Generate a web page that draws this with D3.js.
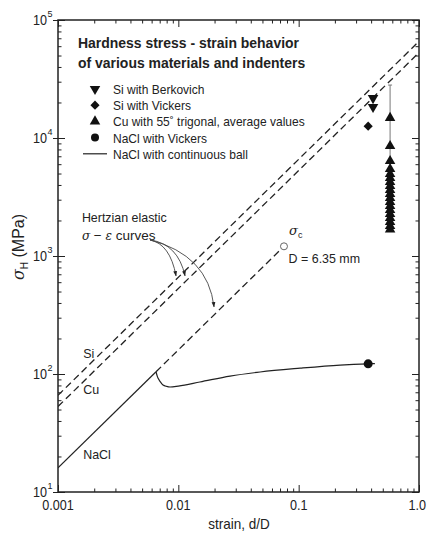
<!DOCTYPE html>
<html>
<head>
<meta charset="utf-8">
<script src="https://cdn.jsdelivr.net/npm/d3@7"></script>
<style>
  html, body { margin:0; padding:0; background:#fff; }
  svg text { font-family: "Liberation Sans Narrow", "Arial Narrow", "Liberation Sans", Arial, sans-serif; fill:#222; }
</style>
</head>
<body>
<svg id="chart" width="427" height="533"></svg>
<script>
// strain (d/D) vs hardness stress (MPa)
const xTickLabels = ['0.001', '0.01', '0.1', '1.0'];
const yTickExponents = [1, 2, 3, 4, 5];

const siBerkovich = [[0.415, 21800], [0.415, 18300]];
const siVickers = [[0.378, 12600]];
const cuStrain = 0.575;
const cuRange = [1600, 28100];
const cuStress = [14800, 8550, 6380, 5460, 4955, 4581, 4238, 3919, 3624, 3352, 3100, 2867, 2651, 2452, 2268, 2098, 1940, 1795, 1680];
const naclVickers = [[0.378, 122]];

// continuous ball curve for NaCl (after yield)
const ballStrain = [0.00653, 0.0067, 0.00692, 0.0072, 0.00746, 0.008, 0.00853, 0.01, 0.0151, 0.0269, 0.0478, 0.103, 0.221, 0.378, 0.43];
const ballStress = [104, 95, 89, 84, 80.7, 78.5, 77.6, 79, 85.5, 96, 104, 112, 119, 122, 122.5];

// Hertzian elastic lines, sigma = E * strain
const elastic = [
  {name:'Si', E:66000, from:0.001, to:1},
  {name:'Cu', E:53000, from:0.001, to:1}
];
const naclE = 16000, naclYield = 0.00653, naclCrit = 0.0755;

const legendItems = [
  {sym:'down', label:'Si with Berkovich'},
  {sym:'diamond', label:'Si with Vickers'},
  {sym:'up', label:'Cu with 55\u02da trigonal, average values'},
  {sym:'circle', label:'NaCl with Vickers'},
  {sym:'line', label:'NaCl with continuous ball'}
];

const svg = d3.select('#chart');
const x = d3.scaleLog().domain([0.001, 1]).range([58, 419]);
const y = d3.scaleLog().domain([10, 1e5]).range([492, 20]);
const ink = '#222';

// the reference uses a condensed face; squeeze the wide fallback a little
function squeeze(sel, k){
  sel.each(function(){
    const w = this.getComputedTextLength();
    d3.select(this).attr('textLength', w*k).attr('lengthAdjust','spacingAndGlyphs');
  });
}

svg.append('defs').append('clipPath').attr('id','plot')
  .append('rect').attr('x',58).attr('y',20).attr('width',361).attr('height',472);
svg.select('defs').append('marker').attr('id','arrow').attr('viewBox','0 0 10 10')
  .attr('refX',9).attr('refY',5).attr('markerWidth',6).attr('markerHeight',7).attr('orient','auto')
  .append('path').attr('d','M0,1.5L10,5L0,8.5Z').attr('fill',ink);

// ticks (inside, on all four sides)
const isMajor = v => Math.abs(Math.log10(v) - Math.round(Math.log10(v))) < 1e-6;
const xt = x.ticks(), yt = y.ticks();
const xMajor = xt.filter(isMajor), xMinor = xt.filter(v => !isMajor(v));
const yMajor = yt.filter(isMajor), yMinor = yt.filter(v => !isMajor(v));

function axisSet(maker, scale, pos, vals, size){
  const g = svg.append('g').attr('transform', pos)
    .call(maker(scale).tickValues(vals).tickSize(size).tickFormat(''));
  g.select('.domain').remove();
  g.selectAll('line').attr('stroke', ink).attr('stroke-width', 1);
}
axisSet(d3.axisBottom, x, 'translate(0,492)', xMinor, -3.5);
axisSet(d3.axisBottom, x, 'translate(0,492)', xMajor, -7);
axisSet(d3.axisTop, x, 'translate(0,20)', xMinor, -3.5);
axisSet(d3.axisTop, x, 'translate(0,20)', xMajor, -7);
axisSet(d3.axisLeft, y, 'translate(58,0)', yMinor, -3.5);
axisSet(d3.axisLeft, y, 'translate(58,0)', yMajor, 5);
axisSet(d3.axisLeft, y, 'translate(58,0)', yMajor, -7);
axisSet(d3.axisRight, y, 'translate(419,0)', yMinor, -3.5);
axisSet(d3.axisRight, y, 'translate(419,0)', yMajor, -7);

svg.append('rect').attr('x',58).attr('y',20).attr('width',361).attr('height',472)
  .attr('fill','none').attr('stroke',ink).attr('stroke-width',1.5);

// tick labels (last one kept inside the window edge)
svg.append('g').selectAll('text').data(xMajor).enter().append('text')
  .attr('x', (d,i) => i === xMajor.length-1 ? 426 : x(d))
  .attr('y', 510)
  .attr('text-anchor', (d,i) => i === xMajor.length-1 ? 'end' : 'middle')
  .attr('font-size',14)
  .text((d,i) => xTickLabels[i]).call(squeeze, 0.9);
svg.append('g').selectAll('text').data(yTickExponents).enter().append('text')
  .attr('x', 47).attr('y', d => y(Math.pow(10,d)) + 5).attr('text-anchor','end').attr('font-size',14)
  .text('10').call(squeeze, 0.9);
svg.append('g').selectAll('text').data(yTickExponents).enter().append('text')
  .attr('x', 47.5).attr('y', d => y(Math.pow(10,d)) - 3).attr('font-size',9).text(d => d);

// axis titles
svg.append('text').attr('x',239).attr('y',529).attr('text-anchor','middle').attr('font-size',15)
  .text('strain,  d/D').call(squeeze, 0.9);
const yt2 = svg.append('text').attr('transform','translate(24,247) rotate(-90)').attr('text-anchor','middle').attr('font-size',16);
yt2.append('tspan').attr('font-family','DejaVu Serif, serif').attr('font-style','italic').text('\u03c3');
yt2.append('tspan').attr('font-size',10).attr('dy',4).text('H');
yt2.append('tspan').attr('dy',-4).text('  (MPa)');

const plot = svg.append('g').attr('clip-path','url(#plot)');
const line = d3.line().x(d => x(d[0])).y(d => y(d[1]));

// elastic dashed lines
plot.selectAll('path.el').data(elastic).enter().append('path').attr('class','el')
  .attr('d', d => line([[d.from, d.E*d.from],[d.to, d.E*d.to]]))
  .attr('fill','none').attr('stroke',ink).attr('stroke-width',1.3).attr('stroke-dasharray','7,4');
plot.append('path').attr('d', line([[naclYield, naclE*naclYield],[naclCrit, naclE*naclCrit]]))
  .attr('fill','none').attr('stroke',ink).attr('stroke-width',1.3).attr('stroke-dasharray','7,4');
plot.append('path').attr('d', line([[0.001, naclE*0.001],[naclYield, naclE*naclYield]]))
  .attr('fill','none').attr('stroke',ink).attr('stroke-width',1.2);
plot.append('circle').attr('cx', x(naclCrit)).attr('cy', y(naclE*naclCrit)).attr('r',3.5)
  .attr('fill','#fff').attr('stroke','#666').attr('stroke-width',1);

// continuous ball curve
plot.append('path').datum(ballStrain.map((s,i) => [s, ballStress[i]]))
  .attr('d', d3.line().x(d => x(d[0])).y(d => y(d[1])).curve(d3.curveMonotoneX))
  .attr('fill','none').attr('stroke',ink).attr('stroke-width',1.2);

// Cu range bar and triangles
plot.append('line').attr('x1',x(cuStrain)).attr('x2',x(cuStrain)).attr('y1',y(cuRange[1])).attr('y2',y(cuRange[0]))
  .attr('stroke','#777').attr('stroke-width',1);
plot.append('line').attr('x1',x(cuStrain)-2).attr('x2',x(cuStrain)+2).attr('y1',y(cuRange[1])).attr('y2',y(cuRange[1]))
  .attr('stroke','#777').attr('stroke-width',1);
const tri = d3.symbol().type(d3.symbolTriangle).size(48);
plot.selectAll('path.cu').data(cuStress).enter().append('path').attr('class','cu')
  .attr('transform', d => `translate(${x(cuStrain)},${y(d)})`).attr('d', tri).attr('fill','#111');
plot.selectAll('path.berk').data(siBerkovich).enter().append('path').attr('class','berk')
  .attr('transform', d => `translate(${x(d[0])},${y(d[1])}) rotate(180)`).attr('d', tri).attr('fill','#111');
const dia = d3.symbol().type(d3.symbolSquare).size(42);
plot.selectAll('path.vick').data(siVickers).enter().append('path').attr('class','vick')
  .attr('transform', d => `translate(${x(d[0])},${y(d[1])}) rotate(45)`).attr('d', dia).attr('fill','#111');
plot.selectAll('circle.nv').data(naclVickers).enter().append('circle').attr('class','nv')
  .attr('cx', d => x(d[0])).attr('cy', d => y(d[1])).attr('r',4.5).attr('fill','#111');

// Hertzian annotation arrows
const arrowFrom = [0.00582, 1368];
const arrowTo = [[0.00957, 678, 0.00853, 1265], [0.01137, 678, 0.00994, 1265], [0.0198, 370, 0.01766, 1019]];
svg.selectAll('path.arr').data(arrowTo).enter().append('path').attr('class','arr')
  .attr('d', d => `M${x(arrowFrom[0])},${y(arrowFrom[1])}Q${x(d[2])},${y(d[3])} ${x(d[0])},${y(d[1])}`)
  .attr('fill','none').attr('stroke','#444').attr('stroke-width',0.9).attr('marker-end','url(#arrow)');

// text annotations, anchored in data units
const notes = [
  {t:'Si', s:0.00162, v:137}, {t:'Cu', s:0.00162, v:67.6}, {t:'NaCl', s:0.00162, v:19},
  {t:'Hertzian elastic', s:0.00158, v:1941}, {t:'D = 6.35 mm', s:0.0825, v:873}
];
svg.selectAll('text.note').data(notes).enter().append('text').attr('class','note')
  .attr('x', d => x(d.s)).attr('y', d => y(d.v)).attr('font-size',13.5).text(d => d.t).call(squeeze, 0.92);
const se = svg.append('text').attr('x', x(0.00158)).attr('y', y(1368)).attr('font-size',13.5);
se.append('tspan').attr('font-family','DejaVu Serif, serif').attr('font-style','italic').attr('font-size',12).text('\u03c3');
se.append('tspan').text(' \u2212 ');
se.append('tspan').attr('font-family','DejaVu Serif, serif').attr('font-style','italic').attr('font-size',12).text('\u03b5');
se.append('tspan').text(' curves');
const sc = svg.append('text').attr('x', x(0.0832)).attr('y', y(1507)).attr('font-size',13);
sc.append('tspan').attr('font-family','DejaVu Serif, serif').attr('font-style','italic').text('\u03c3');
sc.append('tspan').attr('font-size',9).attr('dy',3).text('c');

// title and legend
svg.append('text').attr('x',78).attr('y',48).attr('font-size',15.5).attr('font-weight','bold')
  .text('Hardness stress - strain behavior').call(squeeze, 0.9);
svg.append('text').attr('x',78).attr('y',68).attr('font-size',15.5).attr('font-weight','bold')
  .text('of various materials and indenters').call(squeeze, 0.9);

const lg = svg.append('g').selectAll('g').data(legendItems).enter().append('g')
  .attr('transform', (d,i) => `translate(95,${89 + i*16.2})`);
lg.each(function(d){
  const g = d3.select(this);
  if (d.sym === 'down') g.append('path').attr('d', tri).attr('transform','rotate(180)').attr('fill','#111');
  if (d.sym === 'up') g.append('path').attr('d', tri).attr('fill','#111');
  if (d.sym === 'diamond') g.append('path').attr('d', dia).attr('transform','rotate(45)').attr('fill','#111');
  if (d.sym === 'circle') g.append('circle').attr('r',4).attr('fill','#111');
  if (d.sym === 'line') g.append('line').attr('x1',-12).attr('x2',12).attr('stroke',ink).attr('stroke-width',1.2);
});
lg.append('text').attr('x',18).attr('y',5).attr('font-size',13.5).text(d => d.label).call(squeeze, 0.89);
</script>
</body>
</html>
